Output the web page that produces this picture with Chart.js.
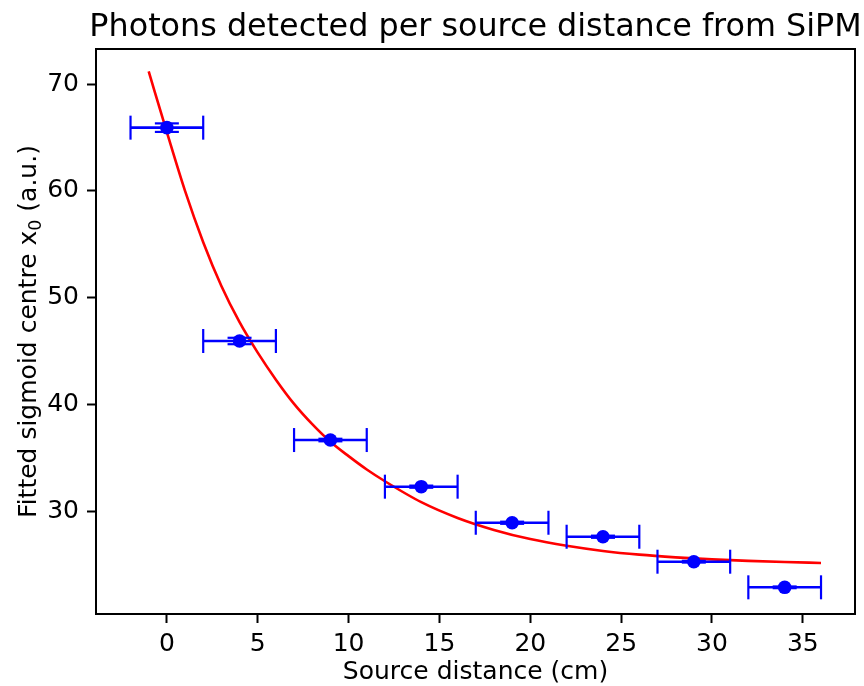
<!DOCTYPE html>
<html>
<head>
<meta charset="utf-8">
<script src="https://cdn.jsdelivr.net/npm/chart.js@4.4.1/dist/chart.umd.min.js"></script>
<style>
  html, body { margin: 0; padding: 0; background: #fff; }
  canvas { display: block; }
</style>
</head>
<body>
<canvas id="chart" width="864" height="686"></canvas>
<script>
// measured points
const distances = [0, 4, 9, 14, 19, 24, 29, 34];
const centres = [65.93, 45.94, 36.66, 32.29, 28.91, 27.6, 25.26, 22.86];
const distanceErr = [2, 2, 2, 2, 2, 2, 2, 2];
const centreErr = [0.4, 0.3, 0.12, 0.1, 0.1, 0.1, 0.08, 0.08];

// fitted curve
const fitX = [-1, 0, 1, 2, 3, 4, 5, 6, 7, 8, 9, 10, 11, 12, 14, 16, 18, 20, 22, 24, 26, 28, 30, 32, 34, 36];
const fitY = [71.2, 65.5, 60.0, 55.2, 51.1, 47.7, 44.85, 42.32, 40.05, 38.15, 36.5, 35.15, 33.9, 32.8, 30.84, 29.36, 28.24, 27.38, 26.75, 26.27, 25.92, 25.67, 25.48, 25.34, 25.23, 25.14];

const xTicks = [0, 5, 10, 15, 20, 25, 30, 35];
const yTicks = [30, 40, 50, 60, 70];

const FONT = '"DejaVu Sans", sans-serif';
Chart.defaults.font.family = FONT;
Chart.defaults.color = '#000';

function line(ctx, x0, y0, x1, y1) {
    ctx.beginPath();
    ctx.moveTo(x0, y0);
    ctx.lineTo(x1, y1);
    ctx.stroke();
}

const errorBars = {
    id: 'errorBars',
    beforeDatasetDraw(chart, args) {
        if (args.index !== 0) return;
        const ctx = chart.ctx, sx = chart.scales.x, sy = chart.scales.y;
        const cap = 12;
        ctx.save();
        ctx.strokeStyle = '#0000ff';
        distances.forEach((d, i) => {
            const px = sx.getPixelForValue(d);
            const py = sy.getPixelForValue(centres[i]);
            const xl = sx.getPixelForValue(d - distanceErr[i]);
            const xr = sx.getPixelForValue(d + distanceErr[i]);
            const yb = sy.getPixelForValue(centres[i] - centreErr[i]);
            const yt = sy.getPixelForValue(centres[i] + centreErr[i]);
            ctx.lineWidth = 2.6;
            line(ctx, xl, py, xr, py);
            line(ctx, px, yb, px, yt);
            ctx.lineWidth = 2.2;
            line(ctx, xl, py - cap, xl, py + cap);
            line(ctx, xr, py - cap, xr, py + cap);
            line(ctx, px - cap, yb, px + cap, yb);
            line(ctx, px - cap, yt, px + cap, yt);
        });
        ctx.restore();
    }
};

const frameAndText = {
    id: 'frameAndText',
    afterDraw(chart) {
        const ctx = chart.ctx, a = chart.chartArea;
        ctx.save();
        ctx.strokeStyle = '#000';
        ctx.lineWidth = 2;
        ctx.strokeRect(a.left, a.top, a.right - a.left, a.bottom - a.top);

        // title
        ctx.fillStyle = '#000';
        ctx.font = '31.8px ' + FONT;
        ctx.textAlign = 'center';
        ctx.textBaseline = 'alphabetic';
        ctx.fillText('Photons detected per source distance from SiPM', (a.left + a.right) / 2, 36);

        // y label with subscript 0
        const parts = [
            { t: 'Fitted sigmoid centre x', f: '25px ' + FONT, dy: 0 },
            { t: '0', f: '17.5px ' + FONT, dy: 5 },
            { t: ' (a.u.)', f: '25px ' + FONT, dy: 0 }
        ];
        let total = 0;
        parts.forEach(p => { ctx.font = p.f; p.w = ctx.measureText(p.t).width; total += p.w; });
        ctx.translate(36, (a.top + a.bottom) / 2);
        ctx.rotate(-Math.PI / 2);
        ctx.textAlign = 'left';
        let x = -total / 2;
        parts.forEach(p => {
            ctx.font = p.f;
            ctx.fillText(p.t, x, p.dy);
            x += p.w;
        });
        ctx.restore();
    }
};

const axisGrid = {
    drawOnChartArea: false,
    drawTicks: true,
    tickLength: 9,
    tickWidth: 2,
    tickColor: '#000'
};

new Chart(document.getElementById('chart'), {
    type: 'scatter',
    data: {
        datasets: [
            {
                label: 'data',
                data: distances.map((d, i) => ({ x: d, y: centres[i] })),
                backgroundColor: '#0000ff',
                borderColor: '#0000ff',
                borderWidth: 0,
                pointRadius: 6.8
            },
            {
                label: 'fit',
                data: fitX.map((x, i) => ({ x: x, y: fitY[i] })),
                showLine: true,
                borderColor: '#ff0000',
                borderWidth: 2.6,
                pointRadius: 0,
                cubicInterpolationMode: 'monotone'
            }
        ]
    },
    options: {
        responsive: false,
        animation: false,
        layout: { padding: { top: 49, right: 9, bottom: 0, left: 0 } },
        plugins: { legend: { display: false }, tooltip: { enabled: false } },
        scales: {
            x: {
                type: 'linear',
                min: -3.9,
                max: 37.87,
                afterBuildTicks: s => { s.ticks = xTicks.map(v => ({ value: v })); },
                afterFit: s => { s.height = 72; },
                grid: axisGrid,
                border: { display: false },
                ticks: { color: '#000', font: { size: 25 }, padding: 6, maxRotation: 0, autoSkip: false },
                title: {
                    display: true,
                    text: 'Source distance (cm)',
                    color: '#000',
                    font: { size: 25, lineHeight: 1.05 },
                    padding: { top: 0, bottom: 0 }
                }
            },
            y: {
                type: 'linear',
                min: 20.36,
                max: 73.3,
                afterBuildTicks: s => { s.ticks = yTicks.map(v => ({ value: v })); },
                afterFit: s => { s.width = 96; },
                grid: axisGrid,
                border: { display: false },
                ticks: { color: '#000', font: { size: 25 }, padding: 8, autoSkip: false }
            }
        }
    },
    plugins: [errorBars, frameAndText]
});
</script>
</body>
</html>
